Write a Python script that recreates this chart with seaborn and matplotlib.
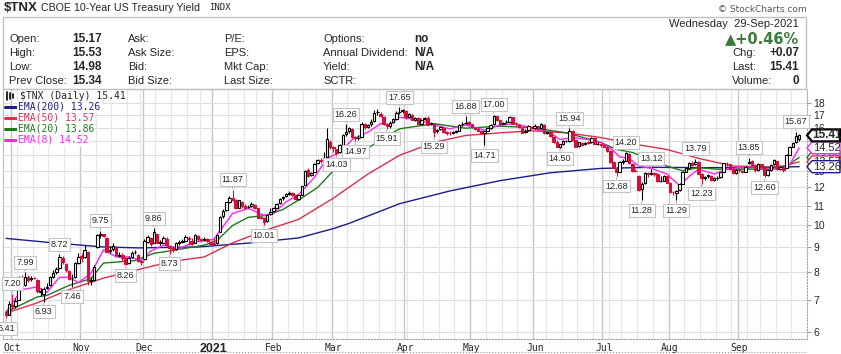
import numpy as np
import pandas as pd
import seaborn as sns
import matplotlib.pyplot as plt
from matplotlib.patches import Rectangle, Polygon
from matplotlib.lines import Line2D
from matplotlib.transforms import IdentityTransform
from matplotlib.ticker import NullLocator, NullFormatter

# --- Data (TNX = 10y yield x 10) ---
holidays = ["2020-11-26", "2020-12-25", "2021-01-01", "2021-01-18", "2021-02-15",
            "2021-04-02", "2021-05-31", "2021-07-05", "2021-09-06"]

opens = [
    6.60, 6.52,
    6.82, 6.80, 7.00, 7.80, 7.50, 7.80, 7.72, 7.79, 7.70, 7.28, 7.20, 7.40, 7.50, 7.82, 8.00,
    8.15, 8.55, 8.30, 8.02, 7.78, 7.80, 8.35,
    8.62, 8.60, 8.80, 7.70, 7.70, 9.00, 9.55, 9.58, 9.40, 8.85, 8.92, 9.00, 8.65, 8.70, 8.55,
    8.35, 8.58, 8.80, 8.70, 8.40,
    8.50, 9.25, 9.40, 9.20, 9.60, 9.22, 9.20, 9.38, 9.05, 8.98, 8.92, 9.20, 9.25, 9.30, 9.40,
    9.30, 9.20, 9.50, 9.35, 9.32, 9.38, 9.25,
    9.18, 9.18, 9.70, 10.45, 10.75, 11.20, 11.42, 11.30, 10.90, 11.20, 11.00, 10.92, 10.98,
    11.05, 10.85, 10.40, 10.35, 10.20, 10.55,
    10.70, 10.90, 11.12, 11.40, 11.50, 11.65, 11.70, 11.60, 11.35, 11.60, 12.15, 13.05, 12.75,
    12.95, 13.50, 13.70, 13.62, 13.90, 14.95,
    14.55, 14.40, 14.20, 14.70, 15.50, 15.70, 15.90, 15.30, 15.25, 15.30, 16.25, 16.05, 16.25,
    16.50, 17.20, 17.10, 16.85, 16.25, 16.15, 16.40, 16.70, 17.20, 17.30,
    17.35, 16.85, 17.00, 16.60, 16.75, 16.30, 16.65, 16.75, 16.25, 16.30, 15.70, 15.85, 16.00,
    15.65, 15.60, 15.55, 15.68, 15.75, 16.25, 16.35, 16.40,
    16.25, 16.00, 15.90, 15.75, 15.60, 15.75, 15.95, 16.25, 16.90, 16.55, 16.30, 16.40, 16.45,
    16.80, 16.30, 16.20, 16.00, 15.65, 15.80, 16.05,
    15.95, 16.10, 15.95, 16.20, 15.55, 15.65, 15.30, 14.90, 14.60, 14.75, 15.00, 15.00, 15.75,
    15.05, 14.65, 14.88, 14.75, 14.90, 14.90, 15.20, 14.80, 14.80,
    14.68, 14.60, 14.30, 13.55, 13.10, 12.95, 13.55, 13.65, 14.10, 13.45, 13.00, 12.70, 11.90,
    12.25, 12.85, 12.80, 12.85, 12.80, 12.35, 12.40, 12.65,
    12.25, 11.75, 11.70, 11.85, 12.20, 12.95, 13.15, 13.50, 13.40, 13.55, 12.80, 12.55, 12.65,
    12.70, 12.45, 12.55, 12.60, 12.95, 13.45, 13.40, 13.10, 12.85,
    13.05, 13.00, 12.95, 13.50, 13.65, 13.35, 13.05, 13.40, 13.20, 12.75, 13.05, 13.40, 13.60,
    13.10, 13.20, 13.20, 14.05, 14.60, 14.90, 15.17,
]
highs = [
    6.67, 6.96,
    7.20, 7.05, 7.84, 7.90, 7.99, 7.89, 7.85, 7.82, 7.74, 7.40, 7.45, 7.58, 7.85, 8.08, 8.20,
    8.72, 8.62, 8.34, 8.06, 7.92, 8.40, 8.75,
    8.75, 9.10, 8.85, 7.82, 8.26, 9.60, 9.75, 9.62, 9.45, 9.05, 9.20, 9.05, 8.82, 8.78, 8.60,
    8.62, 8.84, 8.87, 8.72, 8.48,
    9.35, 9.55, 9.45, 9.86, 9.62, 9.32, 9.52, 9.45, 9.10, 9.05, 9.25, 9.32, 9.38, 9.55, 9.52,
    9.40, 9.62, 9.55, 9.42, 9.45, 9.42, 9.30,
    9.40, 9.60, 10.45, 10.80, 11.20, 11.50, 11.87, 11.35, 11.32, 11.25, 11.10, 11.05, 11.20,
    11.08, 10.88, 10.48, 10.40, 10.58, 10.90,
    10.92, 11.15, 11.42, 11.50, 11.70, 11.80, 11.72, 11.62, 11.60, 12.10, 13.05, 13.15, 12.92,
    13.50, 13.75, 13.85, 14.20, 16.00, 15.10,
    14.65, 14.45, 14.75, 15.50, 16.26, 16.05, 15.95, 15.40, 15.45, 16.40, 16.35, 16.30, 16.70,
    17.40, 17.45, 17.20, 16.90, 16.35, 16.50, 16.75, 17.35, 17.65, 17.50,
    17.40, 17.15, 17.05, 16.85, 16.80, 16.70, 16.85, 16.90, 16.45, 16.35, 15.90, 16.10, 16.05,
    15.70, 15.70, 15.75, 15.80, 16.30, 16.45, 16.88, 16.50,
    16.30, 16.05, 15.95, 15.80, 15.75, 16.00, 16.30, 17.00, 16.95, 16.60, 16.45, 16.55, 16.90,
    16.85, 16.40, 16.25, 16.05, 15.85, 16.20, 16.15,
    16.30, 16.15, 16.35, 16.25, 15.75, 15.70, 15.35, 15.10, 14.80, 15.05, 15.10, 15.94, 15.80,
    15.10, 14.95, 14.92, 14.95, 15.00, 15.30, 15.22, 14.90, 14.85,
    14.80, 14.65, 14.35, 13.60, 13.15, 13.65, 13.75, 14.20, 14.15, 13.50, 13.10, 12.75, 12.30,
    12.90, 12.95, 13.12, 12.95, 12.85, 12.65, 12.75, 12.70,
    12.30, 11.80, 11.85, 12.25, 13.00, 13.20, 13.55, 13.60, 13.79, 13.60, 12.85, 12.70, 12.80,
    12.75, 12.60, 12.65, 12.95, 13.50, 13.55, 13.45, 13.15, 13.10,
    13.15, 13.05, 13.30, 13.85, 13.70, 13.40, 13.50, 13.45, 13.25, 13.10, 13.40, 13.75, 13.65,
    13.30, 13.35, 14.10, 14.65, 14.95, 15.67, 15.53,
]
lows = [
    6.41, 6.50,
    6.70, 6.72, 6.98, 7.36, 7.48, 7.62, 7.66, 7.72, 7.24, 7.12, 6.93, 7.38, 7.48, 7.78, 7.94,
    8.12, 8.30, 8.00, 7.69, 7.46, 7.78, 8.30,
    8.40, 8.55, 7.52, 7.50, 7.67, 8.98, 9.40, 9.48, 8.80, 8.78, 8.85, 8.62, 8.60, 8.45, 8.26,
    8.32, 8.55, 8.72, 8.40, 8.28,
    8.48, 9.20, 9.08, 9.18, 9.18, 9.10, 9.18, 9.05, 8.73, 8.82, 8.90, 9.12, 9.18, 9.28, 9.10,
    9.12, 9.18, 9.30, 9.25, 9.28, 9.22, 9.12,
    9.10, 9.15, 9.68, 10.38, 10.70, 11.12, 11.25, 10.82, 10.85, 10.90, 10.86, 10.85, 10.95,
    10.82, 10.35, 10.30, 10.01, 10.18, 10.50,
    10.65, 10.85, 11.08, 11.30, 11.45, 11.60, 11.52, 11.30, 11.30, 11.58, 12.12, 12.62, 12.68,
    12.90, 13.45, 13.50, 13.60, 13.85, 14.40,
    14.25, 14.03, 14.15, 14.65, 15.40, 15.60, 15.25, 14.97, 15.10, 15.28, 15.90, 15.95, 16.10,
    16.45, 17.00, 16.82, 16.20, 15.91, 16.00, 16.35, 16.65, 17.10, 17.15,
    16.70, 16.80, 16.55, 16.50, 16.25, 16.28, 16.60, 16.20, 16.20, 15.29, 15.55, 15.80, 15.60,
    15.45, 15.45, 15.50, 15.60, 15.72, 16.15, 16.30, 16.20,
    15.95, 15.80, 15.70, 15.55, 14.71, 15.70, 15.90, 16.20, 16.50, 16.20, 16.25, 16.35, 16.40,
    16.25, 16.15, 15.95, 15.55, 15.55, 15.75, 15.85,
    15.90, 15.85, 15.90, 15.50, 15.50, 15.28, 14.85, 14.55, 14.50, 14.70, 14.90, 14.95, 15.00,
    14.55, 14.60, 14.65, 14.70, 14.80, 14.88, 14.75, 14.72, 14.60,
    14.55, 14.25, 13.50, 13.15, 12.68, 12.92, 13.45, 13.60, 13.45, 12.95, 12.90, 11.80, 11.28,
    12.20, 12.60, 12.75, 12.70, 12.30, 12.30, 12.35, 12.25,
    11.70, 11.55, 11.29, 11.80, 12.18, 12.90, 13.10, 13.30, 13.35, 12.80, 12.23, 12.45, 12.55,
    12.35, 12.40, 12.45, 12.55, 12.90, 13.30, 13.05, 12.80, 12.82,
    12.95, 12.85, 12.90, 13.40, 13.30, 12.95, 13.00, 13.15, 12.60, 12.70, 13.00, 13.35, 13.05,
    13.05, 12.95, 13.15, 14.00, 14.55, 14.85, 14.98,
]
closes = [
    6.50, 6.85,
    6.78, 6.96, 7.81, 7.42, 7.82, 7.71, 7.79, 7.76, 7.29, 7.30, 7.39, 7.46, 7.80, 7.98, 8.10,
    8.58, 8.40, 8.06, 7.74, 7.76, 8.34, 8.59,
    8.56, 8.88, 7.66, 7.66, 8.21, 9.55, 9.60, 9.52, 8.81, 8.90, 9.06, 8.67, 8.67, 8.57, 8.30,
    8.55, 8.78, 8.79, 8.44, 8.43,
    9.30, 9.45, 9.15, 9.70, 9.20, 9.20, 9.40, 9.10, 8.97, 8.90, 9.20, 9.24, 9.28, 9.48, 9.35,
    9.17, 9.55, 9.37, 9.31, 9.36, 9.28, 9.17,
    9.15, 9.55, 10.41, 10.71, 11.19, 11.40, 11.30, 10.89, 11.28, 10.98, 10.90, 10.95, 11.08,
    10.88, 10.38, 10.37, 10.15, 10.53, 10.65,
    10.88, 11.10, 11.38, 11.46, 11.64, 11.69, 11.59, 11.33, 11.55, 12.06, 13.00, 12.71, 12.87,
    13.44, 13.67, 13.60, 13.82, 15.14, 14.60,
    14.47, 14.15, 14.70, 15.44, 15.65, 15.95, 15.32, 15.21, 15.25, 16.25, 16.05, 16.20, 16.43,
    17.15, 17.21, 16.90, 16.25, 16.14, 16.35, 16.63, 17.16, 17.25, 17.40,
    16.79, 17.05, 16.58, 16.77, 16.29, 16.62, 16.78, 16.23, 16.35, 15.68, 15.81, 16.03, 15.64,
    15.59, 15.55, 15.66, 15.70, 16.20, 16.30, 16.35, 16.28,
    16.03, 15.91, 15.74, 15.62, 15.72, 15.95, 16.22, 16.93, 16.58, 16.26, 16.39, 16.40, 16.83,
    16.30, 16.25, 16.04, 15.61, 15.75, 16.10, 15.94,
    16.12, 15.91, 16.26, 15.55, 15.68, 15.33, 14.90, 14.58, 14.75, 14.97, 14.98, 15.71, 15.08,
    14.60, 14.90, 14.70, 14.88, 14.87, 15.24, 14.80, 14.80, 14.68,
    14.60, 14.30, 13.55, 13.20, 12.90, 13.57, 13.65, 14.13, 13.50, 12.99, 12.97, 11.87, 12.21,
    12.87, 12.80, 12.87, 12.81, 12.36, 12.36, 12.68, 12.29,
    11.74, 11.72, 11.82, 12.18, 12.93, 13.15, 13.50, 13.38, 13.59, 12.83, 12.56, 12.62, 12.74,
    12.44, 12.56, 12.57, 12.92, 13.47, 13.40, 13.13, 12.84, 13.06,
    13.03, 12.94, 13.24, 13.55, 13.37, 13.02, 13.43, 13.23, 12.75, 13.03, 13.35, 13.71, 13.10,
    13.21, 13.04, 14.05, 14.58, 14.85, 15.34, 15.41,
]

# moving averages at sample bars
ema200_x = [0, 15, 31, 42, 61, 77, 93, 104, 109, 125, 141, 157, 173, 189, 205, 220, 236, 252]
ema200_y = [9.40, 9.20, 9.02, 8.98, 9.02, 9.19, 9.42, 9.85, 10.10, 11.10, 11.80, 12.40,
            12.88, 13.15, 13.22, 13.20, 13.20, 13.26]
ema50_x = [0, 10, 20, 31, 41, 52, 63, 72, 83, 93, 104, 115, 125, 136, 146, 157, 167, 178,
           189, 199, 210, 220, 231, 242, 247, 252]
ema50_y = [6.57, 6.90, 7.35, 7.77, 8.06, 8.40, 8.60, 9.20, 9.80, 10.30, 11.40, 12.80, 14.00,
           14.90, 15.40, 15.60, 15.75, 15.60, 15.25, 14.80, 14.40, 13.80, 13.30, 13.25, 13.30, 13.57]
ema20_x = [0, 10, 13, 20, 27, 31, 36, 41, 47, 52, 63, 67, 72, 77, 83, 88, 93, 99, 104, 109,
           115, 120, 125, 136, 146, 157, 167, 178, 189, 194, 199, 205, 210, 215, 220, 226, 231,
           236, 242, 248, 252]
ema20_y = [6.60, 7.10, 7.15, 7.50, 7.75, 8.35, 8.40, 8.45, 8.75, 8.85, 9.10, 9.30, 10.00,
           10.40, 10.50, 10.80, 11.30, 12.00, 13.00, 13.90, 14.50, 15.20, 15.90, 16.30, 15.95,
           16.10, 16.00, 15.60, 14.90, 14.40, 14.20, 13.70, 13.30, 13.00, 13.20, 13.10, 13.10,
           13.10, 13.10, 13.30, 13.86]
ema8_x = [0, 5, 10, 13, 17, 20, 23, 27, 31, 35, 39, 43, 46, 50, 55, 60, 66, 72, 77, 82, 85,
          89, 93, 98, 102, 106, 110, 115, 119, 122, 125, 131, 136, 141, 146, 152, 157, 162, 167,
          173, 176, 180, 185, 189, 192, 195, 198, 201, 205, 210, 214, 217, 220, 225, 229, 233,
          237, 242, 246, 249, 252]
ema8_y = [6.60, 7.35, 7.45, 7.25, 7.80, 7.80, 7.60, 7.95, 8.90, 8.60, 8.60, 8.45, 8.85, 9.10,
          8.95, 9.25, 9.35, 10.60, 10.85, 10.50, 10.60, 11.20, 11.60, 12.60, 13.80, 14.20, 15.10,
          15.65, 16.30, 16.20, 16.80, 16.60, 16.20, 15.90, 16.20, 15.80, 16.20, 16.30, 15.95,
          15.60, 15.10, 15.25, 15.10, 14.90, 14.50, 13.90, 13.80, 13.30, 13.15, 12.80, 12.10,
          12.65, 13.10, 12.80, 13.10, 13.20, 13.25, 13.10, 13.10, 13.40, 14.52]

# labelled swing highs and lows (bar positions)
peak_bars = [2, 6, 17, 30, 47, 72, 108, 125, 146, 155, 179, 197, 205, 219, 236, 251]
trough_bars = [0, 12, 21, 38, 52, 82, 105, 111, 121, 136, 152, 176, 194, 202, 213, 221, 241]

last_values = {"EMA(20)": 13.86, "EMA(50)": 13.57, "EMA(200)": 13.26, "EMA(8)": 14.52,
               "$TNX": 15.41}

W, H = 841, 354
RED = "#d1103c"
C200, C50, C20, C8 = "#1c1c8e", "#dc2f4e", "#1d7a1d", "#ff22ff"


def fx(px):
    return px / W


def fy(py):
    return 1 - py / H


dates = pd.bdate_range("2020-09-29", "2021-09-29")
dates = dates[~dates.isin(pd.to_datetime(holidays))]
n = min(len(dates), len(closes))
dates = dates[:n]

sns.set_style("white")
plt.rcParams["font.family"] = ["Liberation Sans", "DejaVu Sans"]

fig = plt.figure(figsize=(W / 100, H / 100), dpi=100)
ax = fig.add_axes([fx(3), 15 / H, 804 / W, 250 / H])
ax.set_yscale("log")

# --- grid ---
week_start = [i for i in range(1, n) if dates[i].weekday() < dates[i - 1].weekday()]
month_start = [i for i in range(1, n) if dates[i].month != dates[i - 1].month]
for i in week_start:
    ax.axvline(i - 0.5, color="#e6e6e6", lw=0.8, zorder=0)
for i in month_start:
    ax.axvline(i - 0.5, color="#c6c6c6", lw=1.0, zorder=0)
for v in range(6, 19):
    ax.axhline(v, color="#dedede", lw=0.8, zorder=0)

# --- moving averages ---
for xs, ys, col in [(ema200_x, ema200_y, C200), (ema50_x, ema50_y, C50),
                    (ema20_x, ema20_y, C20), (ema8_x, ema8_y, C8)]:
    sns.lineplot(x=xs, y=ys, ax=ax, color=col, linewidth=1.0, zorder=2,
                 estimator=None, sort=False, legend=False)

# --- candles ---
x = np.arange(n)
o, h, l, c = (np.array(a[:n]) for a in (opens, highs, lows, closes))
prev = np.r_[o[0], c[:-1]]
edge = np.where(c >= prev, "black", RED)
fill = np.where(c > o, "white", edge)
ax.vlines(x, l, h, colors=edge, lw=0.8, zorder=3)
ax.bar(x, np.abs(c - o), bottom=np.minimum(o, c), width=0.8, color=fill,
       edgecolor=edge, linewidth=0.8, zorder=4)

# --- swing labels ---
box = dict(boxstyle="square,pad=0.22", fc="white", ec="#c4c4c4", lw=0.8)
arrow = dict(arrowstyle="-", color="#b4b4b4", lw=0.8, shrinkA=0, shrinkB=1)
for i in peak_bars:
    ax.annotate(f"{h[i]:.2f}", xy=(i, h[i]), xytext=(0, 10), textcoords="offset pixels",
                ha="center", va="center", fontsize=6.5, bbox=box, arrowprops=arrow, zorder=6)
for i in trough_bars:
    ax.annotate(f"{l[i]:.2f}", xy=(i, l[i]), xytext=(0, -10), textcoords="offset pixels",
                ha="center", va="center", fontsize=6.5, bbox=box, arrowprops=arrow, zorder=6)

# --- axes ---
ax.set_xlim(-0.95, 254.5)
ax.set_ylim(5.80, 19.25)
ax.yaxis.tick_right()
ax.set_yticks(range(6, 19))
ax.set_yticklabels([str(v) for v in range(6, 19)], fontsize=7.5)
ax.yaxis.set_minor_locator(NullLocator())
ax.yaxis.set_minor_formatter(NullFormatter())
ax.tick_params(axis="y", length=3, width=0.8, color="#a0a0a0", pad=1.5)
ax.set_xticks(month_start)
ax.set_xticklabels([d.strftime("%Y") if d.month == 1 else d.strftime("%b")
                    for d in dates[month_start]], fontfamily="DejaVu Sans Mono", fontsize=7)
for t in ax.get_xticklabels():
    if t.get_text().isdigit():
        t.set_fontweight("bold")
        t.set_fontsize(9)
        t.set_fontfamily("Liberation Sans")
ax.tick_params(axis="x", length=0, pad=3)
ax.set_xlabel("")
ax.set_ylabel("")
for side in ("left", "top"):
    ax.spines[side].set_color("#bdbdbd")
for side in ("right", "bottom"):
    ax.spines[side].set_color("#a0a0a0")
    ax.spines[side].set_linestyle(":")

# --- last value tags on the right ---
tip_x = ax.transAxes.transform((1, 0))[0]
tag_order = [("EMA(20)", C20, 1.0), ("EMA(50)", C50, 1.0), ("EMA(200)", C200, 1.0),
             ("EMA(8)", C8, 1.0), ("$TNX", "black", 1.6)]
for k, (name, col, lw) in enumerate(tag_order):
    val = last_values[name]
    yp = ax.transData.transform((0, val))[1]
    pts = [(tip_x, yp), (tip_x + 5, yp + 6), (tip_x + 33, yp + 6),
           (tip_x + 33, yp - 6), (tip_x + 5, yp - 6)]
    fig.add_artist(Polygon(pts, closed=True, fc="white", ec=col, lw=lw,
                           transform=IdentityTransform(), zorder=10 + 2 * k))
    fig.text((tip_x + 20) / W, yp / H, f"{val:.2f}", ha="center", va="center",
             fontsize=8.5 if name == "$TNX" else 8,
             fontweight="bold" if name == "$TNX" else "normal", zorder=11 + 2 * k)

# --- header and info box ---
fig.text(fx(4), fy(8), "$TNX", fontsize=9.5, fontweight="bold", va="center")
fig.text(fx(41), fy(8), "CBOE 10-Year US Treasury Yield", fontsize=7.7, va="center")
fig.text(fx(209), fy(8), "INDX", fontsize=6.5, family="DejaVu Sans Mono", va="center")
fig.text(fx(807), fy(9), "\u00a9 StockCharts.com", fontsize=6.5, family="DejaVu Sans",
         color="#555555", ha="right", va="center")
fig.add_artist(Rectangle((fx(3), fy(89)), 803 / W, 72 / H, transform=fig.transFigure,
                         fill=False, ec="#c0c0c0", lw=1))

rows = [39.5, 53.5, 67.5, 81.5]
col1 = [("Open:", "15.17"), ("High:", "15.53"), ("Low:", "14.98"), ("Prev Close:", "15.34")]
col2 = ["Ask:", "Ask Size:", "Bid:", "Bid Size:"]
col3 = ["P/E:", "EPS:", "Mkt Cap:", "Last Size:"]
col4 = [("Options:", "no"), ("Annual Dividend:", "N/A"), ("Yield:", "N/A"), ("SCTR:", "")]
for y, (lab, val), l2, l3, (l4, v4) in zip(rows, col1, col2, col3, col4):
    fig.text(fx(9), fy(y), lab, fontsize=8, va="center")
    fig.text(fx(72), fy(y), val, fontsize=8.5, fontweight="bold", va="center")
    fig.text(fx(128), fy(y), l2, fontsize=8, va="center")
    fig.text(fx(224), fy(y), l3, fontsize=8, va="center")
    fig.text(fx(323), fy(y), l4, fontsize=8, va="center")
    fig.text(fx(414), fy(y), v4, fontsize=8.5, fontweight="bold", va="center")

fig.text(fx(799), fy(24), "Wednesday  29-Sep-2021", fontsize=8, ha="right", va="center")
fig.text(fx(799), fy(39), "\u25b2+0.46%", fontsize=10.5, fontweight="bold", color="#3a7a3a",
         ha="right", va="center", family=["DejaVu Sans"])
for y, lab, val in [(53.5, "Chg:", "+0.07"), (67.5, "Last:", "15.41"), (81.5, "Volume:", "0")]:
    fig.text(fx(732), fy(y), lab, fontsize=8, va="center")
    fig.text(fx(799), fy(y), val, fontsize=8.5, fontweight="bold", ha="right", va="center")

# --- legend block inside the plot ---
fig.text(fx(20), fy(96), "$TNX (Daily) 15.41", fontsize=7, family="DejaVu Sans Mono",
         va="center", bbox=dict(fc="white", ec="none", pad=0.6))
for k, px in enumerate([7, 10, 13]):
    fig.add_artist(Line2D([fx(px), fx(px)], [fy(92 + k), fy(100 - k)], lw=1.2,
                          color="black", transform=fig.transFigure))
legend_rows = [("EMA(200) 13.26", C200, 107), ("EMA(50) 13.57", C50, 118),
               ("EMA(20) 13.86", C20, 129), ("EMA(8) 14.52", C8, 140)]
for txt, col, y in legend_rows:
    fig.add_artist(Line2D([fx(5), fx(16)], [fy(y), fy(y)], lw=2.2, color=col,
                          transform=fig.transFigure))
    fig.text(fx(18), fy(y), txt, fontsize=7, family="DejaVu Sans Mono", color=col,
             va="center", bbox=dict(fc="white", ec="none", pad=0.6))

fig.add_artist(Line2D([fx(3), fx(807)], [fy(352), fy(352)], lw=0.8, ls=":",
                      color="#909090", transform=fig.transFigure))

fig.savefig("out.png", dpi=100)
